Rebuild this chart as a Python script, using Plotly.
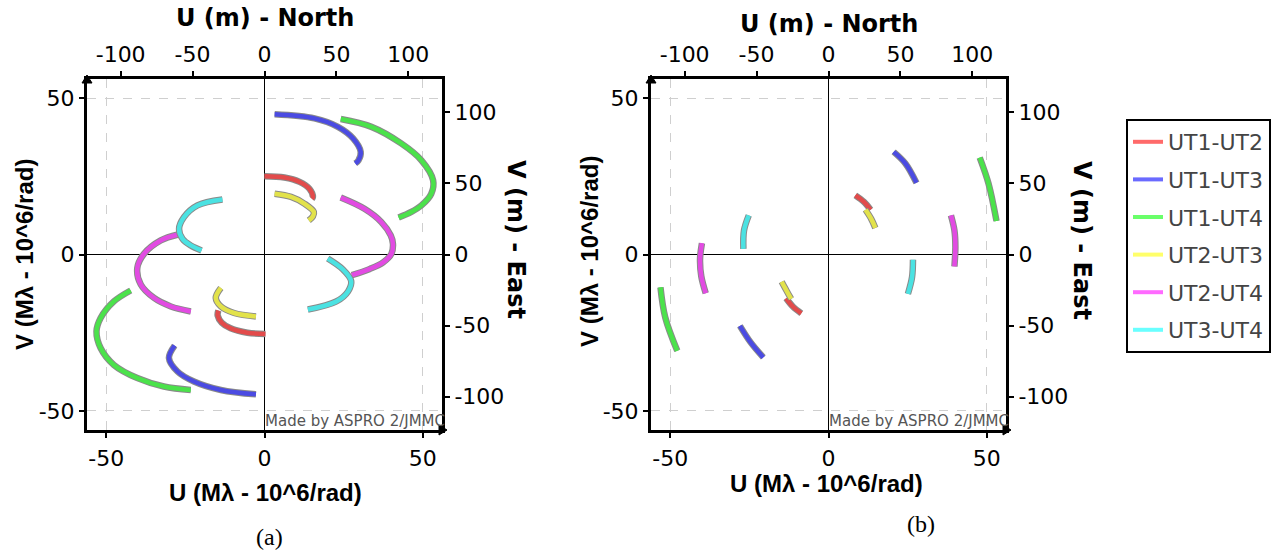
import plotly.graph_objects as go

W, H = 1275, 554

baselines = ["UT1-UT2", "UT1-UT3", "UT1-UT4", "UT2-UT3", "UT2-UT4", "UT3-UT4"]
arc_colors = ["#e24b4b", "#4b4be2", "#4be24b", "#e2e24b", "#e24be2", "#4be2e2"]
legend_colors = ["#ff6a6a", "#6a6aff", "#6aff6a", "#ffff6a", "#ff6aff", "#6affff"]

# Panel (a): uv tracks in Mλ, two arcs per baseline
a_u1 = {
    "UT1-UT2": [0, 6.3, 11.1, 14.2, 15.3, 15.0],
    "UT1-UT3": [3.2, 15.8, 23.2, 28.0, 30.4, 29.7, 28.7],
    "UT1-UT4": [24.1, 33.8, 43.2, 49.6, 53.3, 52.7, 49.6, 46.4, 42.4],
    "UT2-UT3": [3.2, 8.4, 12.7, 15.6, 15.3, 14.0],
    "UT2-UT4": [24.1, 31.6, 36.9, 39.9, 40.6, 40.1, 37.5, 33.3, 27.6],
    "UT3-UT4": [-13.3, -21.2, -25.4, -27.0, -25.9, -23.3, -19.9],
}
a_v1 = {
    "UT1-UT2": [25.0, 24.6, 23.2, 21.0, 18.4, 17.8],
    "UT1-UT3": [44.8, 43.5, 40.8, 37.1, 32.8, 30.1, 29.1],
    "UT1-UT4": [43.3, 40.8, 35.5, 30.1, 23.7, 19.4, 15.7, 13.6, 11.8],
    "UT2-UT3": [19.4, 18.4, 16.2, 13.6, 12.2, 10.9],
    "UT2-UT4": [18.2, 14.6, 10.4, 6.1, 3.4, 0.2, -2.5, -4.6, -6.6],
    "UT3-UT4": [17.6, 15.7, 12.0, 8.2, 5.0, 2.9, 1.3],
}
a_u2 = {
    "UT1-UT2": [-14.6, -14.8, -13.5, -10.7, -5.4, 0.3],
    "UT1-UT3": [-28.4, -30.2, -27.5, -22.3, -13.8, -2.7],
    "UT1-UT4": [-42.3, -47.6, -51.8, -53.1, -51.8, -47.6, -40.2, -31.8, -23.3],
    "UT2-UT3": [-13.8, -15.4, -13.8, -9.6, -2.7],
    "UT2-UT4": [-27.3, -32.8, -38.1, -40.2, -39.1, -34.9, -29.6, -23.3],
    "UT3-UT4": [20.0, 24.8, 27.4, 26.4, 22.7, 13.7],
}
a_v2 = {
    "UT1-UT2": [-17.9, -19.5, -21.8, -23.6, -25.0, -25.4],
    "UT1-UT3": [-29.1, -33.1, -37.4, -40.6, -43.3, -44.7],
    "UT1-UT4": [-11.5, -15.0, -20.3, -24.6, -29.9, -35.3, -39.5, -42.2, -43.3],
    "UT2-UT3": [-10.7, -13.9, -16.6, -18.7, -19.8],
    "UT2-UT4": [6.4, 4.5, 0.2, -4.3, -9.6, -13.9, -16.6, -18.2],
    "UT3-UT4": [-1.3, -4.8, -8.5, -11.8, -15.0, -17.6],
}

# Panel (b)
b_u1 = {
    "UT1-UT2": [8.5, 11.2, 13.3],
    "UT1-UT3": [20.6, 24.3, 27.8],
    "UT1-UT4": [47.8, 50.6, 53.1],
    "UT2-UT3": [11.7, 13.5, 14.8],
    "UT2-UT4": [38.7, 39.8, 40.1, 39.8],
    "UT3-UT4": [-25.2, -26.7, -26.9],
}
b_v1 = {
    "UT1-UT2": [18.9, 16.8, 14.3],
    "UT1-UT3": [32.8, 29.1, 22.9],
    "UT1-UT4": [31.0, 22.6, 10.7],
    "UT2-UT3": [14.3, 11.4, 8.5],
    "UT2-UT4": [12.5, 7.7, 2.4, -3.8],
    "UT3-UT4": [12.5, 7.7, 1.8],
}
b_u2 = {
    "UT1-UT2": [-13.4, -11.2, -8.6],
    "UT1-UT3": [-28.0, -24.6, -20.6],
    "UT1-UT4": [-53.1, -51.6, -47.8],
    "UT2-UT3": [-14.8, -13.3, -11.8],
    "UT2-UT4": [-40.0, -40.6, -40.2, -38.8],
    "UT3-UT4": [26.7, 26.4, 25.1],
}
b_v2 = {
    "UT1-UT2": [-14.0, -16.7, -18.8],
    "UT1-UT3": [-22.8, -28.1, -32.9],
    "UT1-UT4": [-10.5, -20.1, -30.8],
    "UT2-UT3": [-8.7, -11.5, -14.2],
    "UT2-UT4": [3.6, -1.5, -7.0, -12.4],
    "UT3-UT4": [-1.7, -7.3, -12.6],
}

mla_ticks = [-50, 0, 50]
mla_text = ["-50", "0", "50"]
m_ticks = [-100, -50, 0, 50, 100]
m_text = ["-100", "-50", "0", "50", "100"]

R_MLA = 56.1
R_M = 123.4

fig = go.Figure()


def arc(u, v, color, xa, ya):
    fig.add_trace(go.Scatter(x=u, y=v, mode="lines", xaxis=xa, yaxis=ya,
                             line=dict(color="#8a8a8a", width=6.5, shape="spline"),
                             showlegend=False, hoverinfo="skip"))
    fig.add_trace(go.Scatter(x=u, y=v, mode="lines", xaxis=xa, yaxis=ya,
                             line=dict(color=color, width=4.5, shape="spline"),
                             showlegend=False, hoverinfo="skip"))


for bl, col in zip(baselines, arc_colors):
    arc(a_u1[bl], a_v1[bl], col, "x", "y")
    arc(a_u2[bl], a_v2[bl], col, "x", "y")
    arc(b_u1[bl], b_v1[bl], col, "x3", "y3")
    arc(b_u2[bl], b_v2[bl], col, "x3", "y3")

for bl, col in zip(baselines, legend_colors):
    fig.add_trace(go.Scatter(x=[None], y=[None], mode="lines", name=bl,
                             legendgroup=bl, line=dict(color=col, width=4),
                             xaxis="x", yaxis="y"))

# dummy traces so the meter axes are drawn
fig.add_trace(go.Scatter(x=[None], y=[None], xaxis="x2", yaxis="y2", showlegend=False, hoverinfo="skip"))
fig.add_trace(go.Scatter(x=[None], y=[None], xaxis="x4", yaxis="y4", showlegend=False, hoverinfo="skip"))

tickfont = dict(family="DejaVu Sans", size=22, color="black")


def base_axis(domain, anchor, side):
    return dict(domain=domain, anchor=anchor, side=side, range=[-R_MLA, R_MLA],
                tickmode="array", tickvals=mla_ticks, ticktext=mla_text,
                showgrid=True, gridcolor="#cfcfcf", griddash="dash", gridwidth=1,
                zeroline=True, zerolinecolor="black", zerolinewidth=1,
                showline=True, linecolor="black", linewidth=3,
                ticks="outside", ticklen=5, tickwidth=1.5, tickcolor="black",
                tickfont=tickfont, fixedrange=True)


def m_axis(overlay, anchor, side):
    return dict(overlaying=overlay, anchor=anchor, side=side, range=[-R_M, R_M],
                tickmode="array", tickvals=m_ticks, ticktext=m_text,
                showgrid=False, zeroline=False,
                showline=True, linecolor="black", linewidth=3,
                ticks="outside", ticklen=5, tickwidth=1.5, tickcolor="black",
                tickfont=tickfont, fixedrange=True)


ydom = [1 - 430 / H, 1 - 79 / H]
xa_dom = [87 / W, 442 / W]
xb_dom = [651 / W, 1006 / W]

fig.update_layout(
    width=W, height=H,
    margin=dict(l=0, r=0, t=0, b=0),
    paper_bgcolor="white", plot_bgcolor="white",
    xaxis=base_axis(xa_dom, "y", "bottom"),
    yaxis=base_axis(ydom, "x", "left"),
    xaxis2=m_axis("x", "y", "top"),
    yaxis2=m_axis("y", "x", "right"),
    xaxis3=base_axis(xb_dom, "y3", "bottom"),
    yaxis3=base_axis(ydom, "x3", "left"),
    xaxis4=m_axis("x3", "y3", "top"),
    yaxis4=m_axis("y3", "x3", "right"),
    showlegend=True,
    legend=dict(x=1126 / W, y=1 - 119 / H, xanchor="left", yanchor="top",
                bordercolor="black", borderwidth=2, bgcolor="white",
                font=dict(family="DejaVu Sans", size=22, color="#444444"),
                tracegroupgap=6, itemwidth=30),
)

fig.layout.xaxis.ticklabelstandoff = 2
fig.layout.xaxis3.ticklabelstandoff = 2


def px(x):
    return x / W


def py(y):
    return 1 - y / H


ann = []
bold_dv = dict(family="DejaVu Sans", size=24, color="black")
bold_lib = dict(family="Liberation Sans", size=24, color="black")
for cx, cy_top, bx, by, lx, ly, rx, ry in [
    (265, 18, 265, 492, 24, 255, 516, 239),
    (829, 24, 826, 483, 589, 252, 1082, 240),
]:
    ann.append(dict(text="<b>U (m) - North</b>", x=px(cx), y=py(cy_top), font=bold_dv))
    ann.append(dict(text="<b>U (Mλ - 10^6/rad)</b>", x=px(bx), y=py(by), font=bold_lib))
    ann.append(dict(text="<b>V (Mλ - 10^6/rad)</b>", x=px(lx), y=py(ly), font=bold_lib, textangle=-90))
    ann.append(dict(text="<b>V (m) - East</b>", x=px(rx), y=py(ry), font=bold_dv, textangle=90))

for wx in (263, 827):
    ann.append(dict(text="Made by ASPRO 2/JMMC", x=px(wx), y=py(421), xanchor="left",
                    font=dict(family="DejaVu Sans", size=15, color="#555555")))

ann.append(dict(text="(a)", x=px(269), y=py(537), font=dict(family="Liberation Serif", size=24, color="black")))
ann.append(dict(text="(b)", x=px(921), y=py(524), font=dict(family="Liberation Serif", size=24, color="black")))

for a in ann:
    a.setdefault("xanchor", "center")
    a.update(xref="paper", yref="paper", yanchor="middle", showarrow=False)
fig.update_layout(annotations=ann)

shapes = []
for x0 in (87, 651):
    # arrow at top of left axis
    shapes.append(dict(type="path", xref="paper", yref="paper",
                       path=f"M {px(x0-5)} {py(83)} L {px(x0)} {py(75)} L {px(x0+5)} {py(83)} Z",
                       fillcolor="black", line=dict(color="black", width=1)))
    # arrow at right end of bottom axis
    xr = x0 + 355
    shapes.append(dict(type="path", xref="paper", yref="paper",
                       path=f"M {px(xr-3)} {py(425)} L {px(xr+5)} {py(430)} L {px(xr-3)} {py(435)} Z",
                       fillcolor="black", line=dict(color="black", width=1)))
fig.update_layout(shapes=shapes)

fig.write_html("out.html")
